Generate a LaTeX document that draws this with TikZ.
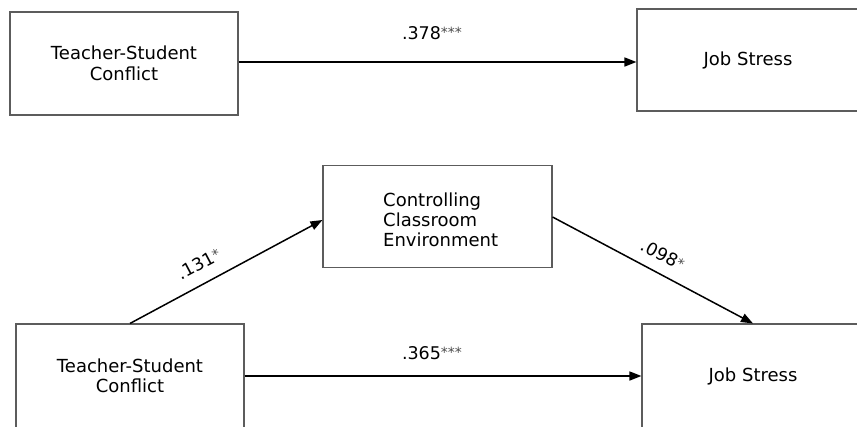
\documentclass[tikz,border=0pt]{standalone}
\usepackage{fontspec}
\setmainfont{DejaVu Sans}
\usetikzlibrary{arrows.meta}
\definecolor{boxline}{rgb}{0.36,0.36,0.36}
\newcommand{\stars}[1]{\raisebox{1.5pt}{\fontsize{14}{14}\selectfont\color{black!70}#1}}
\tikzset{
  varbox/.style={draw=boxline, line width=1.1pt, inner sep=0pt, align=center,
    font=\fontsize{18}{20.5}\selectfont, text=black},
  path/.style={draw=black, line width=1.5pt, -{Triangle[length=12pt,width=9pt]}},
  coef/.style={font=\fontsize{17.5}{20}\selectfont, text=black, inner sep=1pt}
}
\begin{document}
\begin{tikzpicture}[x=1pt,y=-1pt]
\useasboundingbox (0,0) rectangle (857,426);
\clip (0,0) rectangle (857,426);
% top model
\node[varbox, minimum width=228pt, minimum height=103pt] (tsc1) at (124,63.5) {Teacher-Student\\Conflict};
\node[varbox, minimum width=222pt, minimum height=102pt] (js1) at (748,60) {Job Stress};
\draw[path] (tsc1.east |- 0,62) -- (js1.west |- 0,62);
\node[coef] (c1) at (432,33) {.378\stars{***}};
% bottom model
\node[varbox, minimum width=228pt, minimum height=104pt] (tsc2) at (130,376) {Teacher-Student\\Conflict};
\node[varbox, minimum width=222pt, minimum height=104pt] (js2) at (753,376) {Job Stress};
\node[varbox, minimum width=229pt, minimum height=102pt] (ccm) at (437.5,216.5) {};
\node[coef, align=left, anchor=west, font=\fontsize{18}{20}\selectfont] (ccmtext) at (382,220) {Controlling\\Classroom\\Environment};
\draw[path] (tsc2.north) -- (ccm.west |- 0,220);
\draw[path] (ccm.east |- 0,217) -- (js2.north);
\draw[path] (tsc2.east) -- (js2.west);
\node[coef, rotate=28] (c2) at (199,264) {.131\stars{*}};
\node[coef, rotate=-28] (c3) at (663,255) {.098\stars{*}};
\node[coef] (c4) at (432,353) {.365\stars{***}};
\end{tikzpicture}
\end{document}
